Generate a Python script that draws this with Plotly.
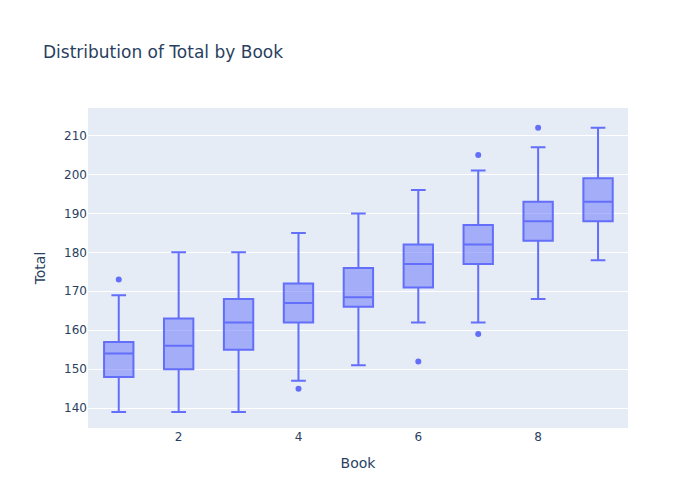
import plotly.graph_objects as go

books = [1, 2, 3, 4, 5, 6, 7, 8, 9]
lower = [139, 139, 139, 147, 151, 162, 162, 168, 178]
q1 = [148, 150, 155, 162, 166, 171, 177, 183, 188]
median = [154, 156, 162, 167, 168.5, 177, 182, 188, 193]
q3 = [157, 163, 168, 172, 176, 182, 187, 193, 199]
upper = [169, 180, 180, 185, 190, 196, 201, 207, 212]
out_x = [1, 4, 6, 7, 7, 8]
out_y = [173, 145, 152, 205, 159, 212]

color = "#636efa"
fig = go.Figure()
fig.add_trace(go.Box(x=books, q1=q1, median=median, q3=q3, lowerfence=lower,
                     upperfence=upper, marker_color=color, showlegend=False, name="Total"))
fig.add_trace(go.Scatter(x=out_x, y=out_y, mode="markers", marker=dict(color=color, size=6),
                         showlegend=False))
fig.update_layout(width=700, height=500, title="Distribution of Total by Book",
                  xaxis_title="Book", yaxis_title="Total", template="plotly",
                  font=dict(family="DejaVu Sans"))
fig.write_html("out.html")
